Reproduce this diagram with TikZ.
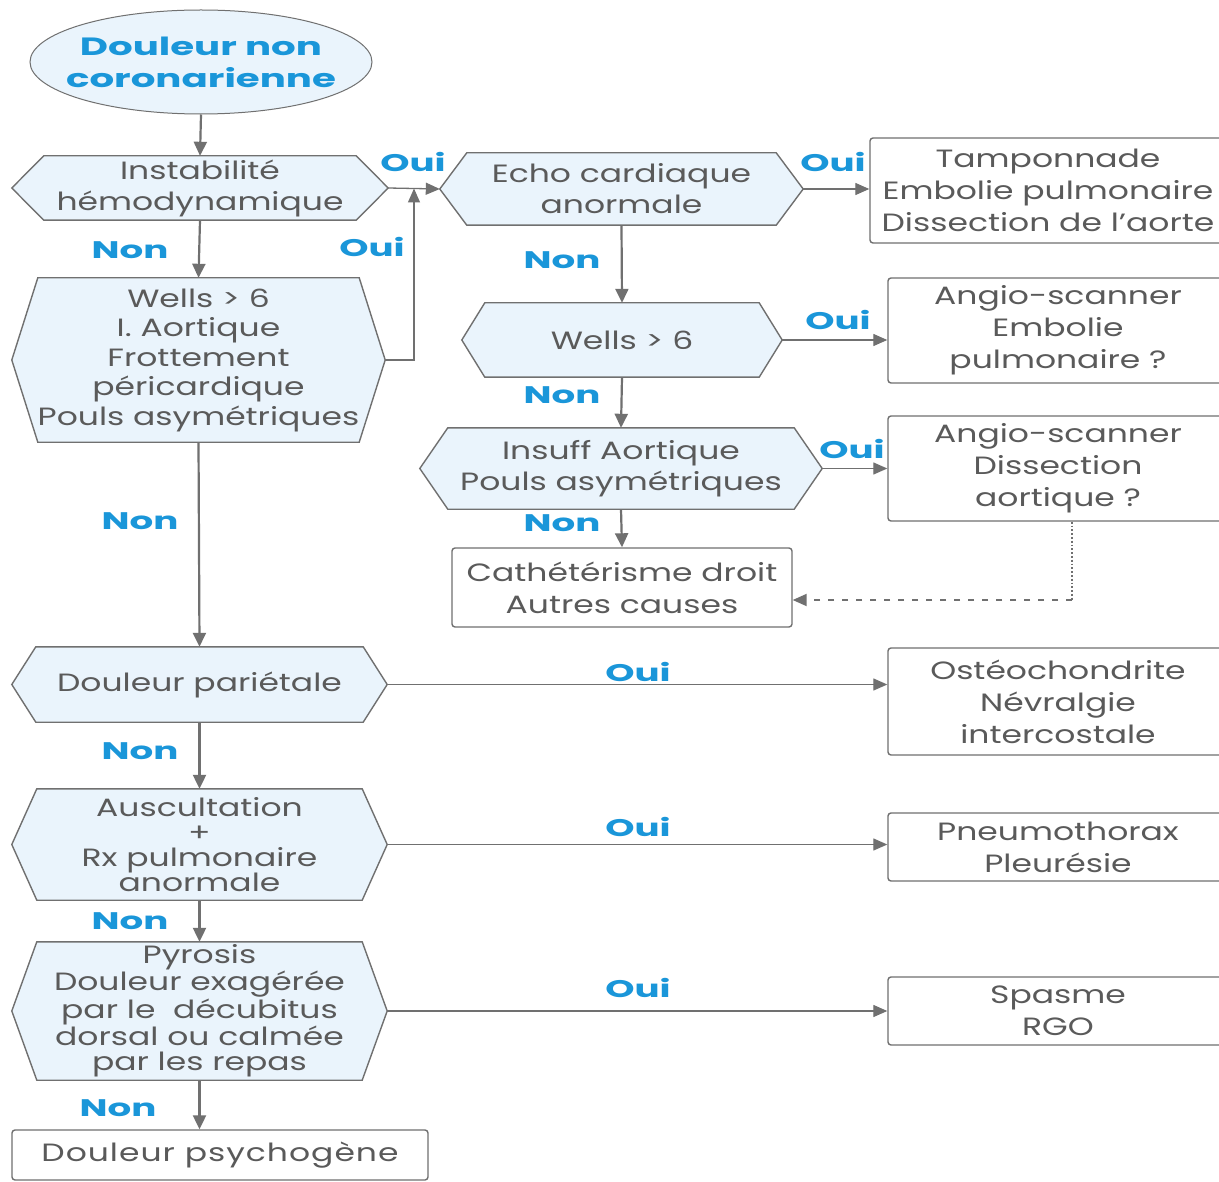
\documentclass[tikz,border=0pt]{standalone}
\usepackage{fontspec}
\setmainfont[FakeStretch=1.32]{Poppins}
\newfontfamily\labfont[FakeStretch=1.55]{Poppins}
\usetikzlibrary{arrows.meta,shapes.geometric,calc}
\definecolor{fillb}{HTML}{EAF4FC}
\definecolor{linec}{HTML}{707070}
\definecolor{txt}{HTML}{5A5A5A}
\definecolor{lab}{HTML}{1A96D9}
\pgfdeclarelayer{bg}\pgfsetlayers{bg,main}
\tikzset{
  hexnode/.style={text=txt, align=center, inner sep=0pt, font=\fontsize{25}{31}\selectfont},
  hexshape/.style={draw=linec, line width=1.4pt, fill=fillb},
  rbox/.style={draw=linec, line width=1.4pt, rounded corners=3pt, fill=white, text=txt, align=center, inner sep=0pt, font=\fontsize{25}{32}\selectfont},
  lbl/.style={text=lab, font=\labfont\bfseries\fontsize{24}{24}\selectfont, inner sep=0pt},
  arr/.style={draw=linec, line width=2.2pt, -{Triangle[length=14pt,width=13pt]}},
  harr/.style={draw=linec, line width=1.3pt, -{Triangle[length=14pt,width=12pt]}},
}
\def\hd{26}
\newcommand\hexagonnode[7][]{%
  \node[hexnode, minimum width={#5-#3}, minimum height={#6-#4}, #1] (#2) at ({(#3+#5)/2},{(#4+#6)/2}) {#7};
  \begin{pgfonlayer}{bg}
  \path[hexshape] (#2.west) -- ([xshift=\hd pt]#2.north west) -- ([xshift=-\hd pt]#2.north east) -- (#2.east) -- ([xshift=-\hd pt]#2.south east) -- ([xshift=\hd pt]#2.south west) -- cycle;
  \end{pgfonlayer}}
\newcommand\resbox[7][]{%
  \node[rbox, minimum width={#5-#3}, minimum height={#6-#4}, #1] (#2) at ({(#3+#5)/2},{(#4+#6)/2}) {#7};}
\begin{document}
\begin{tikzpicture}[x=1pt,y=-1pt]
\useasboundingbox (0,0) rectangle (1219,1182);
\begin{pgfonlayer}{bg}
\fill[white] (0,0) rectangle (1219,1182);
\end{pgfonlayer}
\clip (0,0) rectangle (1219,1182);

\node[ellipse, draw=linec, line width=1pt, fill=fillb, minimum width=342pt, minimum height=104pt, inner xsep=-50pt, inner ysep=-14pt, align=center, text=lab, font=\labfont\bfseries\fontsize{25}{32}\selectfont] (ell) at (201,62) {Douleur non\\coronarienne};

\def\hd{32}\hexagonnode{instab}{12}{156}{388}{220}{Instabilité\\hémodynamique}
\def\hd{26}\hexagonnode[font=\fontsize{25}{29.5}\selectfont]{wellsL}{12}{278}{385}{442}{Wells > 6\\I. Aortique\\Frottement\\péricardique\\Pouls asymétriques}
\def\hd{27}\hexagonnode{echo}{440}{153}{803}{225}{Echo cardiaque\\anormale}
\def\hd{23}\hexagonnode{wellsR}{462}{303}{782}{377}{Wells > 6}
\def\hd{28}\hexagonnode{insuff}{420}{428}{822}{509}{Insuff Aortique\\Pouls asymétriques}
\def\hd{24}\hexagonnode{pariet}{12}{647}{387}{722}{Douleur pariétale}
\def\hd{25}\hexagonnode[font=\fontsize{25}{25}\selectfont]{ausc}{12}{789}{387}{900}{Auscultation\\+\\Rx pulmonaire\\anormale}
\def\hd{25}\hexagonnode[font=\fontsize{25}{25.5}\selectfont]{pyro}{12}{942}{387}{1080}{Pyrosis\\Douleur exagérée\\par le~ décubitus\\dorsal ou calmée\\par les repas}

\resbox{tamp}{870}{138}{1226}{243}{Tamponnade\\Embolie pulmonaire\\Dissection de l'aorte}
\resbox{angioA}{888}{278}{1228}{383}{Angio-scanner\\Embolie\\pulmonaire ?}
\resbox{angioB}{888}{416}{1228}{521}{Angio-scanner\\Dissection\\aortique ?}
\resbox{cath}{452}{548}{792}{627}{Cathétérisme droit\\Autres causes}
\resbox{osteo}{888}{648}{1228}{755}{Ostéochondrite\\Névralgie\\intercostale}
\resbox{pneumo}{888}{813}{1228}{881}{Pneumothorax\\Pleurésie}
\resbox{spasme}{888}{977}{1228}{1045}{Spasme\\RGO}
\resbox[font=\addfontfeature{LetterSpace=4}\fontsize{25}{32}\selectfont]{psych}{12}{1130}{428}{1180}{Douleur psychogène}

% connectors
\draw[arr] (ell.south) -- (instab.north);
\draw[harr] (instab.east) -- (echo.west);
\coordinate (j) at ($(instab.east)!0.5!(echo.west)$);
\draw[harr] (wellsL.east) -| (j);
\draw[arr] (instab.south) -- (wellsL.north);
\draw[harr] (echo.east) -- (echo.east -| tamp.west);
\draw[arr] (echo.south) -- (wellsR.north);
\draw[harr] (wellsR.east) -- (wellsR.east -| angioA.west);
\draw[arr] (wellsR.south) -- (insuff.north);
\draw[harr] (insuff.east) -- (insuff.east -| angioB.west);
\draw[arr] (insuff.south) -- (cath.north);
\coordinate (d1) at (1072,600);
\draw[draw=linec, line width=1.8pt, dotted] (angioB.south -| d1) -- (d1);
\draw[harr, line width=1.8pt, dash pattern=on 6pt off 8pt] (d1) -- (d1 -| cath.east);
\draw[arr] (wellsL.south) -- (pariet.north);
\draw[harr] (pariet.east) -- (pariet.east -| osteo.west);
\draw[arr] (pariet.south) -- (ausc.north);
\draw[harr] (ausc.east) -- (ausc.east -| pneumo.west);
\draw[arr] (ausc.south) -- (pyro.north);
\draw[harr] (pyro.east) -- (pyro.east -| spasme.west);
\draw[arr] (pyro.south) -- (pyro.south |- psych.north);

% labels
\node[lbl] (o1) at (413,162) {Oui};
\node[lbl] (o2) at (372,247) {Oui};
\node[lbl] (n1) at (130,250) {Non};
\node[lbl] (o3) at (833,162) {Oui};
\node[lbl] (n2) at (562,260) {Non};
\node[lbl] (o4) at (838,320) {Oui};
\node[lbl] (n3) at (562,395) {Non};
\node[lbl] (o5) at (852,449) {Oui};
\node[lbl] (n4) at (562,523) {Non};
\node[lbl] (n5) at (140,521) {Non};
\node[lbl] (o6) at (638,672) {Oui};
\node[lbl] (n6) at (140,751) {Non};
\node[lbl] (o7) at (638,827) {Oui};
\node[lbl] (n7) at (130,921) {Non};
\node[lbl] (o8) at (638,988) {Oui};
\node[lbl] (n8) at (118,1108) {Non};
\end{tikzpicture}
\end{document}
